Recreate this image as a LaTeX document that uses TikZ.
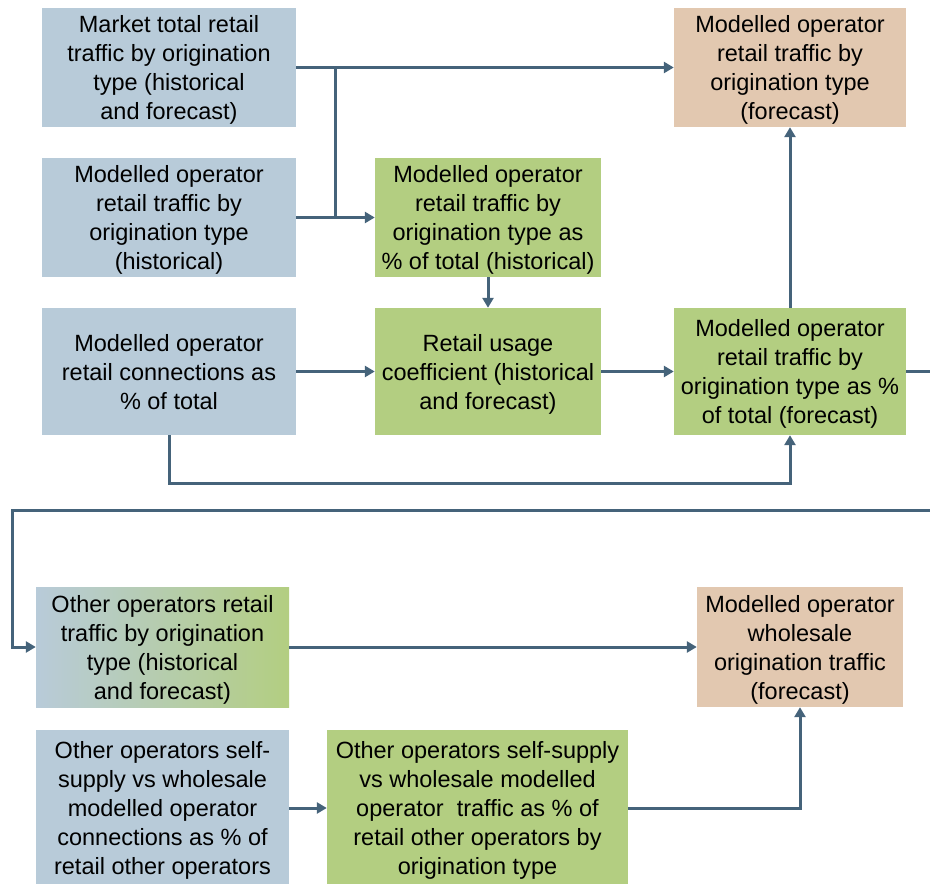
\documentclass[tikz,border=0pt]{standalone}
\usepackage{fontspec}
\setmainfont{Liberation Sans}
\usetikzlibrary{arrows.meta}
\definecolor{inblue}{HTML}{B8CBD9}
\definecolor{calcgreen}{HTML}{B3CE81}
\definecolor{outtan}{HTML}{E2C8B0}
\definecolor{flow}{HTML}{45637A}
\tikzset{
  box/.style={rectangle, inner sep=0pt, align=center, font=\fontsize{23.5}{29}\selectfont,
    text depth=-2pt},
  inbox/.style={box, fill=inblue},
  calcbox/.style={box, fill=calcgreen},
  outbox/.style={box, fill=outtan},
  flowline/.style={draw=flow, line width=3pt},
  flowarrow/.style={flowline, -{Triangle[length=10pt,width=11pt]}},
}
\begin{document}
\begin{tikzpicture}[x=1pt,y=-1pt]
\useasboundingbox (0,0) rectangle (930,884);

% inputs
\node[inbox, minimum width=254pt, minimum height=119pt] (mkt) at (169,67.5)
  {Market total retail\\traffic by origination\\type (historical\\and forecast)};
\node[inbox, minimum width=254pt, minimum height=119pt] (hist) at (169,217.5)
  {Modelled operator\\retail traffic by\\origination type\\(historical)};
\node[inbox, minimum width=254pt, minimum height=127pt] (conn) at (169,371.5)
  {Modelled operator\\retail connections as\\\% of total};

% intermediate calculations
\node[calcbox, minimum width=226pt, minimum height=119pt] (sharehist) at (488,217.5)
  {Modelled operator\\retail traffic by\\origination type as\\\% of total (historical)};
\node[calcbox, minimum width=226pt, minimum height=127pt] (coef) at (488,371.5)
  {Retail usage\\coefficient (historical\\and forecast)};
\node[calcbox, minimum width=232pt, minimum height=127pt] (sharefc) at (790,371.5)
  {Modelled operator\\retail traffic by\\origination type as \%\\of total (forecast)};

% output
\node[outbox, minimum width=232pt, minimum height=119pt] (retailfc) at (790,67.5)
  {Modelled operator\\retail traffic by\\origination type\\(forecast)};

% lower part
\node[box, left color=inblue, right color=calcgreen, minimum width=253pt, minimum height=120pt] (other) at (162.5,647)
  {Other operators retail\\traffic by origination\\type (historical\\and forecast)};
\node[outbox, minimum width=206pt, minimum height=120pt] (whole) at (800,647)
  {Modelled operator\\wholesale\\origination traffic\\(forecast)};
\node[inbox, minimum width=253pt, minimum height=156pt] (selfconn) at (162.5,808)
  {Other operators self-\\supply vs wholesale\\modelled operator\\connections as \% of\\retail other operators};
\node[calcbox, minimum width=301pt, minimum height=156pt] (selftraf) at (477.5,808)
  {Other operators self-supply\\vs wholesale modelled\\operator\ \ traffic as \% of\\retail other operators by\\origination type};

% connectors
\coordinate (jtop) at (335,67.5);
\coordinate (jbot) at (335,217.5);
\draw[flowarrow] (mkt.east) -- (retailfc.west);
\draw[flowline] (jtop) -- (jbot);
\draw[flowarrow] (hist.east) -- (sharehist.west);
\draw[flowarrow] (sharehist.south) -- (coef.north);
\draw[flowarrow] (conn.east) -- (coef.west);
\draw[flowarrow] (coef.east) -- (sharefc.west);
\draw[flowarrow] (conn.south) -- (169,483) -| (sharefc.south);
\draw[flowarrow] (sharefc.north) -- (retailfc.south);

\coordinate (loopA) at (945,371.5);
\coordinate (loopB) at (945,510);
\coordinate (loopC) at (12,510);
\draw[flowarrow] (sharefc.east) -- (loopA) -- (loopB) -- (loopC) |- (other.west);

\draw[flowarrow] (other.east) -- (whole.west);
\draw[flowarrow] (selfconn.east) -- (selftraf.west);
\draw[flowarrow] (selftraf.east) -| (whole.south);
\end{tikzpicture}
\end{document}
